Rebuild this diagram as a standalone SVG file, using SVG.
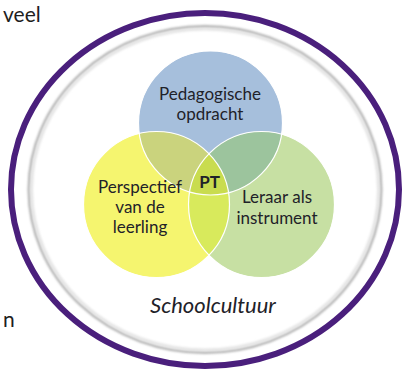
<svg xmlns="http://www.w3.org/2000/svg" width="402" height="369" viewBox="0 0 402 369">
<style>
  .lbl { font-family: Lato, "Noto Sans", "Liberation Sans", sans-serif; font-size: 17px; fill: #1f2229; text-anchor: middle; }
  .side { font-family: Lato, "Noto Sans", "Liberation Sans", sans-serif; font-size: 21px; fill: #1e1e1e; }
  .edge { fill: none; stroke: #ffffff; stroke-width: 1.2; }
</style>
<defs>
  <filter id="soft" x="-10%" y="-10%" width="120%" height="120%">
    <feGaussianBlur stdDeviation="1.2"/>
  </filter>
  <clipPath id="clipB"><circle cx="210.5" cy="123" r="72"/></clipPath>
  <clipPath id="clipY"><circle cx="156.5" cy="204.5" r="73"/></clipPath>
</defs>
<rect width="402" height="369" fill="#ffffff"/>
<text class="side" x="3" y="22">veel</text>
<text class="side" x="3" y="327">n</text>
<g id="frame">
  <ellipse cx="205" cy="189.5" rx="194" ry="176.5" fill="#ffffff" stroke="#4a1f7c" stroke-width="6"/>
  <ellipse cx="205" cy="189.5" rx="176" ry="163" fill="none" stroke="#b4b4b4" stroke-width="3" filter="url(#soft)"/>
  <ellipse cx="205" cy="189.5" rx="173.5" ry="160.5" fill="none" stroke="#e6e6e6" stroke-width="3" filter="url(#soft)"/>
</g>
<g id="pedagogische-opdracht">
  <circle cx="210.5" cy="123" r="72" fill="#a6bfdc"/>
</g>
<g id="perspectief-leerling">
  <circle cx="156.5" cy="204.5" r="73" fill="#f5f56f"/>
</g>
<g id="leraar-instrument">
  <circle cx="261.5" cy="204.5" r="73" fill="#c7e0a3"/>
</g>
<g id="overlaps">
  <g clip-path="url(#clipB)">
    <circle cx="156.5" cy="204.5" r="73" fill="#cad37d"/>
    <circle cx="261.5" cy="204.5" r="73" fill="#9cc49d"/>
  </g>
  <g clip-path="url(#clipY)">
    <circle cx="261.5" cy="204.5" r="73" fill="#d8ea5c"/>
  </g>
  <g clip-path="url(#clipB)">
    <g clip-path="url(#clipY)">
      <circle cx="261.5" cy="204.5" r="73" fill="#c9dc4f"/>
    </g>
  </g>
  <circle class="edge" cx="210.5" cy="123" r="72"/>
  <circle class="edge" cx="156.5" cy="204.5" r="73"/>
  <circle class="edge" cx="261.5" cy="204.5" r="73"/>
</g>
<g id="labels">
  <text class="lbl" x="210" y="100">Pedagogische</text>
  <text class="lbl" x="210" y="120">opdracht</text>
  <text class="lbl" x="140" y="193">Perspectief</text>
  <text class="lbl" x="140" y="213">van de</text>
  <text class="lbl" x="140" y="233">leerling</text>
  <text class="lbl" x="277" y="203">Leraar als</text>
  <text class="lbl" x="277" y="224">instrument</text>
</g>
<g id="pt">
  <text class="lbl" x="209.5" y="188" style="font-weight:bold">PT</text>
</g>
<g id="schoolcultuur">
  <text class="lbl" x="213" y="313" style="font-style:italic;font-size:22px">Schoolcultuur</text>
</g>
<g id="connectors"/>
</svg>
